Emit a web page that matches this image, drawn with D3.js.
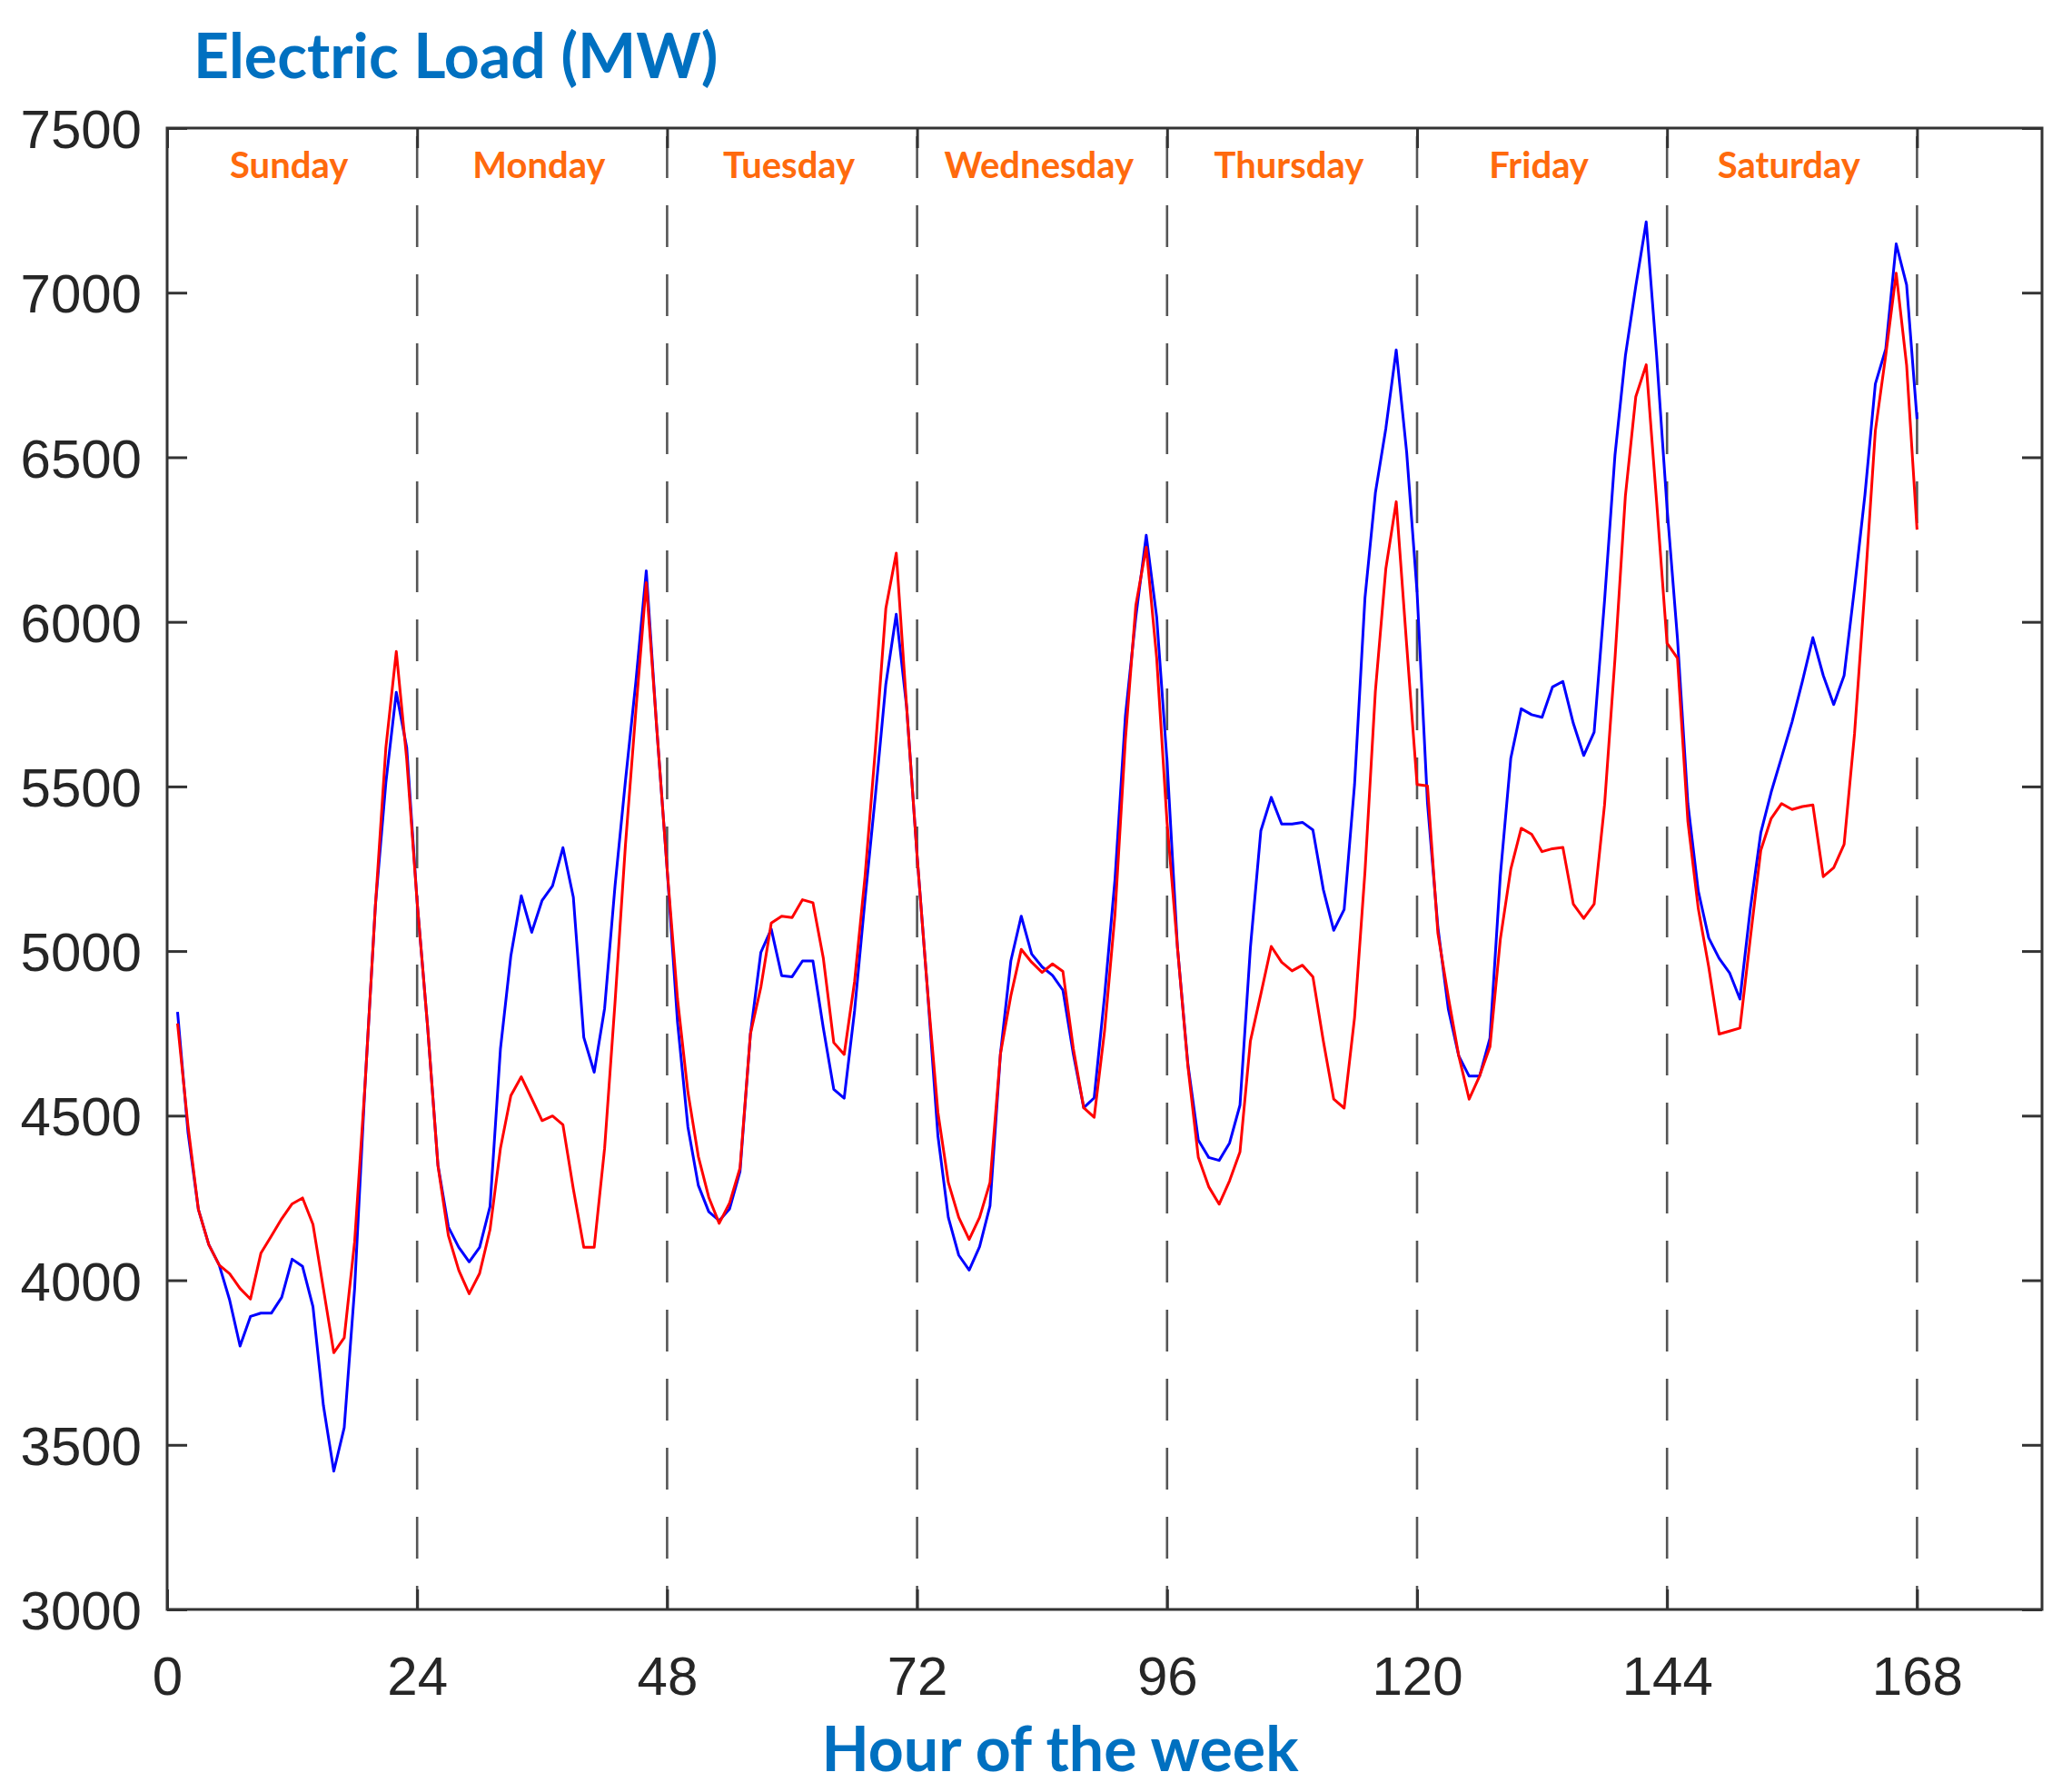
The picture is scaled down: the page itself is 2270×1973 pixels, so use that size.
<!DOCTYPE html>
<html>
<head>
<meta charset="utf-8">
<script src="https://cdn.jsdelivr.net/npm/d3@7"></script>
<style>
 body { margin: 0; background: #fff; }
 .tick text { font-family: "Liberation Sans", Arial, sans-serif; font-size: 60px; fill: #262626; }
 .tick line { stroke: #333; stroke-width: 3; }
</style>
</head>
<body>
<svg id="graph"></svg>
<script>
// hourly load, hours 1..168 of the week
const loadBlue = [
 4815, 4450, 4215, 4108, 4046, 3940, 3800, 3890, 3900, 3900, 3948, 4064, 4042, 3920, 3620, 3420, 3552, 3975, 4594, 5141, 5512, 5786, 5618, 5150,
 4773, 4350, 4162, 4100, 4056, 4100, 4224, 4703, 4986, 5168, 5057, 5154, 5198, 5314, 5163, 4738, 4632, 4826, 5198, 5517, 5818, 6155, 5680, 5250,
 4784, 4465, 4288, 4208, 4181, 4217, 4330, 4748, 4996, 5067, 4925, 4922, 4970, 4970, 4766, 4580, 4553, 4819, 5156, 5474, 5811, 6023, 5740, 5290,
 4881, 4439, 4191, 4076, 4031, 4102, 4226, 4687, 4970, 5106, 4991, 4952, 4926, 4881, 4687, 4524, 4554, 4864, 5218, 5714, 6015, 6263, 6015, 5575,
 5010, 4656, 4426, 4373, 4364, 4417, 4532, 5010, 5365, 5467, 5386, 5386, 5391, 5368, 5187, 5063, 5126, 5506, 6073, 6392, 6587, 6826, 6516, 6091,
 5450, 5072, 4824, 4682, 4620, 4620, 4736, 5231, 5586, 5736, 5718, 5710, 5802, 5819, 5692, 5594, 5665, 6064, 6506, 6808, 7020, 7215, 6808, 6347,
 5950, 5448, 5182, 5040, 4978, 4934, 4854, 5129, 5359, 5483, 5589, 5696, 5820, 5952, 5837, 5749, 5837, 6103, 6386, 6723, 6829, 7148, 7024, 6616
];
const loadRed = [
 4780, 4470, 4215, 4108, 4046, 4020, 3975, 3943, 4082, 4134, 4187, 4232, 4250, 4170, 3975, 3780, 3825, 4117, 4594, 5141, 5618, 5910, 5583, 5150,
 4773, 4348, 4136, 4030, 3959, 4021, 4154, 4401, 4561, 4618, 4552, 4485, 4499, 4472, 4277, 4100, 4100, 4401, 4844, 5322, 5730, 6119, 5680, 5250,
 4854, 4571, 4376, 4252, 4173, 4235, 4341, 4748, 4890, 5085, 5106, 5102, 5156, 5147, 4978, 4722, 4686, 4908, 5226, 5616, 6041, 6209, 5740, 5290,
 4881, 4510, 4297, 4191, 4124, 4191, 4297, 4687, 4864, 5005, 4966, 4935, 4961, 4938, 4704, 4524, 4495, 4758, 5112, 5643, 6050, 6227, 5891, 5390,
 5010, 4650, 4373, 4284, 4231, 4302, 4390, 4727, 4869, 5014, 4966, 4940, 4957, 4922, 4727, 4550, 4523, 4798, 5241, 5790, 6161, 6365, 5931, 5506,
 5502, 5054, 4860, 4682, 4550, 4620, 4709, 5037, 5249, 5373, 5355, 5302, 5311, 5315, 5143, 5099, 5143, 5444, 5887, 6382, 6684, 6781, 6365, 5935,
 5890, 5394, 5129, 4952, 4748, 4757, 4766, 5040, 5306, 5403, 5448, 5430, 5439, 5444, 5226, 5253, 5324, 5660, 6103, 6581, 6811, 7059, 6780, 6280
];
const days = ["Sunday", "Monday", "Tuesday", "Wednesday", "Thursday", "Friday", "Saturday"];
const xTicks = [0, 24, 48, 72, 96, 120, 144, 168];
const yTicks = [3000, 3500, 4000, 4500, 5000, 5500, 6000, 6500, 7000, 7500];

let width = 2270;
let height = 1973;
let plotLeft = 184, plotRight = 2248, plotTop = 141, plotBottom = 1772;

let svg = d3.select("#graph")
 .attr("width", width)
 .attr("height", height);

let scaleX = d3.scaleLinear().domain([0, 180]).range([plotLeft, plotRight]);
let scaleY = d3.scaleLinear().domain([3000, 7500]).range([plotBottom, plotTop]);

// day separators (dashed)
svg.append("g")
 .selectAll("line")
 .data(xTicks.slice(1))
 .enter()
 .append("line")
 .attr("x1", d => scaleX(d))
 .attr("x2", d => scaleX(d))
 .attr("y1", plotBottom)
 .attr("y2", plotTop)
 .attr("stroke", "#555")
 .attr("stroke-width", 2.6)
 .attr("stroke-dasharray", "46,30")
 .attr("stroke-dashoffset", 20);

// axes, ticks pointing inward
svg.append("g")
 .attr("transform", `translate(0, ${plotBottom})`)
 .call(d3.axisBottom(scaleX).tickValues(xTicks).tickSizeInner(-22).tickSizeOuter(0).tickPadding(51));
svg.append("g")
 .attr("transform", `translate(0, ${plotTop})`)
 .call(d3.axisTop(scaleX).tickValues(xTicks).tickSizeInner(-22).tickSizeOuter(0).tickFormat(""));
let gy = svg.append("g")
 .attr("transform", `translate(${plotLeft}, 0)`)
 .call(d3.axisLeft(scaleY).tickValues(yTicks).tickFormat(d3.format("d")).tickSizeInner(-22).tickSizeOuter(0).tickPadding(28));
svg.append("g")
 .attr("transform", `translate(${plotRight}, 0)`)
 .call(d3.axisRight(scaleY).tickValues(yTicks).tickSizeInner(-22).tickSizeOuter(0).tickFormat(""));
svg.selectAll(".domain").remove();
gy.selectAll("text").attr("dy", "0.36em");

// the two load curves
let line = d3.line()
 .x((d, i) => scaleX(i + 1))
 .y(d => scaleY(d));

svg.append("path")
 .datum(loadBlue)
 .attr("d", line)
 .attr("fill", "none")
 .attr("stroke", "#0000ff")
 .attr("stroke-width", 3)
 .attr("stroke-linejoin", "round");

svg.append("path")
 .datum(loadRed)
 .attr("d", line)
 .attr("fill", "none")
 .attr("stroke", "#ff0000")
 .attr("stroke-width", 3)
 .attr("stroke-linejoin", "round");

// box
svg.append("rect")
 .attr("x", plotLeft)
 .attr("y", plotTop)
 .attr("width", plotRight - plotLeft)
 .attr("height", plotBottom - plotTop)
 .attr("fill", "none")
 .attr("stroke", "#333")
 .attr("stroke-width", 3);

// day names
svg.append("g")
 .selectAll("text")
 .data(days)
 .enter()
 .append("text")
 .attr("x", (d, i) => scaleX(i * 24 + 11.7))
 .attr("y", 196)
 .attr("text-anchor", "middle")
 .style("font-family", "Lato, 'Open Sans', sans-serif")
 .style("font-weight", "bold")
 .style("font-size", "40px")
 .style("fill", "#ff6a0d")
 .text(d => d);

// titles
svg.append("text")
 .attr("x", 213)
 .attr("y", 86)
 .style("font-family", "Lato, 'Open Sans', sans-serif")
 .style("font-weight", "bold")
 .style("font-size", "68px")
 .style("fill", "#0070c0")
 .text("Electric Load (MW)");

svg.append("text")
 .attr("x", 1167)
 .attr("y", 1950)
 .attr("text-anchor", "middle")
 .style("font-family", "Lato, 'Open Sans', sans-serif")
 .style("font-weight", "bold")
 .style("font-size", "68px")
 .style("fill", "#0070c0")
 .text("Hour of the week");
</script>
</body>
</html>
